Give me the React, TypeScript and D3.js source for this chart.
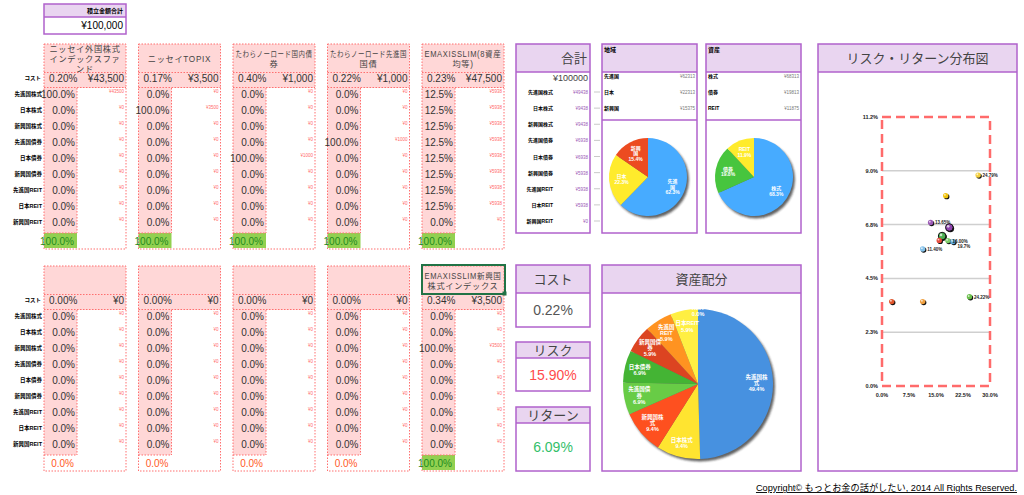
import React from 'react';
import * as d3 from 'd3';

const FONT = "Arial, 'Liberation Sans', 'Noto Sans CJK JP', sans-serif";
const PINK = '#ffd7d7';
const DOT = '#ff6f6f';
const GREEN = '#92d050';
const PURPLE = '#b062cc';
const LILAC = '#e9d5f0';

const assetClasses = ['先進国株式', '日本株式', '新興国株式', '先進国債券', '日本債券', '新興国債券', '先進国REIT', '日本REIT', '新興国REIT'];

const topFundNames = [
  ['ニッセイ外国株式', 'インデックスファ', 'ンド'],
  ['ニッセイTOPIX'],
  ['たわらノーロード国内債', '券'],
  ['たわらノーロード先進国', '国債'],
  ['EMAXISSLIM(8資産', '均等)'],
];
const topFundCosts = ['0.20%', '0.17%', '0.40%', '0.22%', '0.23%'];
const topFundAmounts = [43500, 3500, 1000, 1000, 47500];
const topFundWeights = [
  [100, 0, 0, 0, 0, 0, 0, 0, 0],
  [0, 100, 0, 0, 0, 0, 0, 0, 0],
  [0, 0, 0, 0, 100, 0, 0, 0, 0],
  [0, 0, 0, 100, 0, 0, 0, 0, 0],
  [12.5, 12.5, 12.5, 12.5, 12.5, 12.5, 12.5, 12.5, 0],
];

const bottomFundNames = [[], [], [], [], ['EMAXISSLIM新興国', '株式インデックス']];
const bottomFundCosts = ['0.00%', '0.00%', '0.00%', '0.00%', '0.34%'];
const bottomFundAmounts = [0, 0, 0, 0, 3500];
const bottomFundWeights = [
  [0, 0, 0, 0, 0, 0, 0, 0, 0],
  [0, 0, 0, 0, 0, 0, 0, 0, 0],
  [0, 0, 0, 0, 0, 0, 0, 0, 0],
  [0, 0, 0, 0, 0, 0, 0, 0, 0],
  [0, 0, 100, 0, 0, 0, 0, 0, 0],
];

const totalAmounts = [49438, 9438, 9438, 6938, 6938, 5938, 5938, 5938, 0];

const regionNames = ['先進国', '日本', '新興国'];
const regionAmounts = [62313, 22313, 15375];
const regionShares = [62.3, 22.3, 15.4];
const regionLabels = [['先進', '国', '62.3%'], ['日本', '22.3%'], ['新興', '国', '15.4%']];
const regionColors = ['#3f97ee', '#f3cf27', '#d0421c'];

const assetNames = ['株式', '債券', 'REIT'];
const assetAmounts = [68313, 19813, 11875];
const assetShares = [68.3, 19.8, 11.9];
const assetLabels = [['株式', '68.3%'], ['債券', '19.8%'], ['REIT', '11.9%']];
const assetColors = ['#3f97ee', '#3fae37', '#f3cf27'];

const allocShares = [49.4, 9.4, 9.4, 6.9, 6.9, 5.9, 5.9, 5.9, 0.0];
const allocLabels = [
  ['先進国株', '式', '49.4%'], ['日本株式', '9.4%'], ['新興国株', '式', '9.4%'],
  ['先進国債', '券', '6.9%'], ['日本債券', '6.9%'], ['新興国債', '券', '5.9%'],
  ['先進国', 'REIT', '5.9%'], ['日本REIT', '5.9%'], ['REIT', '0.0%'],
];
const allocColors = ['#3f80c6', '#f0c92a', '#e0471b', '#5cb43e', '#3c9f2e', '#c23c1d', '#e8821d', '#f4d33a', '#f4d33a'];

const portfolioStats = [
  { title: 'コスト', value: '0.22%', color: '#555555' },
  { title: 'リスク', value: '15.90%', color: '#ff4b4b' },
  { title: 'リターン', value: '6.09%', color: '#33c06a' },
];

const rrRisk = [26.7, 17.7, 13.5, 18.7, 16.7, 15.9, 18.3, 19.7, 11.3, 2.7, 11.3, 24.3];
const rrReturn = [8.82, 7.96, 6.84, 6.63, 6.27, 6.09, 6.08, 6.04, 5.73, 3.53, 3.53, 3.73];
const rrColors = ['#f4d03f', '#f1c40f', '#9b59b6', '#8e44ad', '#4caf50', '#e74c3c', '#7dcc6a', '#5dade2', '#85c1e9', '#e0552b', '#f0a040', '#6abf4b'];
const rrBig = [false, false, false, true, true, false, false, false, false, false, false, false];
const rrLabels = ['24.79%', '', '13.65%', '', '', '', '16.00%', '19.7%', '11.40%', '', '', '24.22%'];
const rrYTicks = [0, 2.25, 4.5, 6.75, 9, 11.25];
const rrYTickLabels = ['0.0%', '2.3%', '4.5%', '6.8%', '9.0%', '11.2%'];
const rrXTicks = [0, 7.5, 15, 22.5, 30];
const rrXTickLabels = ['0.0%', '7.5%', '15.0%', '22.5%', '30.0%'];

const colX = d3.scaleLinear().domain([0, 4]).range([44, 422]);
const rowY = d3.scaleLinear().domain([0, 8]).range([50, 178]);
const yen = d3.format(',');

// rough width of a header line (CJK = 1em, latin narrower)
function textWidth(s: string, fs: number, ls: number) {
  let w = 0;
  for (const ch of s) w += (ch.charCodeAt(0) > 255 ? 1 : 0.64) * fs + ls;
  return w;
}

function FundPanel({ x, y, name, cost, amount, weights, selected }: any) {
  const W = 82;
  const cw = 33;
  const total = d3.sum(weights as number[]);
  const dash = '1.5 1.5';
  const lineH = 10;
  const startY = 14.5 - ((name.length - 1) * lineH) / 2;
  return (
    <g fontFamily={FONT}>
      <rect x={x} y={y} width={W} height={205} fill="#fff" />
      <rect x={x} y={y} width={W} height={44} fill={PINK} />
      <rect x={x} y={y + 44} width={cw} height={145} fill={PINK} />
      {total > 0 && <rect x={x} y={y + 189} width={cw} height={15} fill={GREEN} />}
      <rect x={x} y={y} width={W} height={205} fill="none" stroke={DOT} strokeDasharray={dash} />
      <line x1={x} x2={x + W} y1={y + 28.5} y2={y + 28.5} stroke={DOT} strokeDasharray={dash} />
      <line x1={x} x2={x + W} y1={y + 43.5} y2={y + 43.5} stroke={DOT} strokeDasharray={dash} />
      <line x1={x + cw} x2={x + cw} y1={y + 44} y2={y + 189} stroke={DOT} strokeDasharray={dash} />
      <line x1={x} x2={x + cw} y1={y + 189} y2={y + 189} stroke={DOT} strokeDasharray={dash} />
      {selected && (
        <g>
          <rect x={x} y={y - 1} width={W + 1} height={29} fill="none" stroke="#217346" strokeWidth={2} />
          <rect x={x + W - 1.5} y={y + 25.5} width={4} height={4} fill="#217346" />
        </g>
      )}
      {name.map((t: string, i: number) => {
        const w = textWidth(t, 8.2, 0.7);
        return (
          <text key={i} x={x + W / 2} y={y + startY + i * lineH + 3} textAnchor="middle" fontSize={8.2}
            letterSpacing={0.7} fill="#444" {...(w > 77 ? { textLength: 77, lengthAdjust: 'spacingAndGlyphs' } : {})}>{t}</text>
        );
      })}
      <text x={x + 5} y={y + 38} fontSize={10} fill="#333">{cost}</text>
      <text x={x + 80} y={y + 38} fontSize={10} fill="#333" textAnchor="end">¥{yen(amount)}</text>
      {weights.map((w: number, i: number) => (
        <g key={i}>
          <text x={x + 31} y={y + rowY(i) + 3.6} fontSize={10} fill="#333" textAnchor="end">{w.toFixed(1)}%</text>
          <text x={x + 80} y={y + rowY(i) - 1} fontSize={4.5} fill="#ff6b6b" textAnchor="end">¥{Math.round(amount * w / 100)}</text>
        </g>
      ))}
      <text x={x + 30} y={y + 200.5} fontSize={10} textAnchor="end" fill={total > 0 ? '#1e8a1e' : '#ff5a1f'}>{total.toFixed(1)}%</text>
    </g>
  );
}

function RowLabels({ y }: any) {
  return (
    <g fontFamily={FONT} fontWeight="bold" fontSize={5.5} fill="#000" textAnchor="end">
      <text x={41} y={y + 36}>コスト</text>
      {assetClasses.map((a, i) => (
        <text key={a} x={42} y={y + rowY(i) + 2}>{a}</text>
      ))}
    </g>
  );
}

function Pie({ id, cx, cy, r, values, colors, labels, fontSize, labelR }: any) {
  const arcs = d3.pie<number>().sort(null)(values);
  const arc = d3.arc<d3.PieArcDatum<number>>().innerRadius(0).outerRadius(r);
  return (
    <g fontFamily={FONT}>
      <defs>
        <filter id={`${id}-blur`} x="-20%" y="-20%" width="140%" height="140%">
          <feGaussianBlur stdDeviation={1.2} />
        </filter>
        {colors.map((c: string, i: number) => (
          <linearGradient key={i} id={`${id}-g${i}`} gradientUnits="userSpaceOnUse" x1={cx - r * 0.3} y1={cy - r} x2={cx + r * 0.3} y2={cy + r}>
            <stop offset="0" stopColor={d3.color(c)!.brighter(0.35).toString()} />
            <stop offset="1" stopColor={d3.color(c)!.darker(0.55).toString()} />
          </linearGradient>
        ))}
      </defs>
      <circle cx={cx + 2} cy={cy + 2.5} r={r} fill="#222" opacity={0.7} filter={`url(#${id}-blur)`} />
      <g transform={`translate(${cx},${cy})`}>
        {arcs.map((a, i) => (
          <path key={i} d={arc(a) || ''} fill={`url(#${id}-g${i})`} />
        ))}
        {arcs.map((a, i) => {
          const lr = r * (Array.isArray(labelR) ? labelR[i] : labelR);
          const [lx, ly] = d3.arc<d3.PieArcDatum<number>>().innerRadius(lr).outerRadius(lr).centroid(a);
          const lines: string[] = labels[i];
          const h = (lines.length - 1) * fontSize * 1.15;
          return (
            <text key={`l${i}`} fill="#fff" fontSize={fontSize} fontWeight="bold" textAnchor="middle">
              {lines.map((t, j) => (
                <tspan key={j} x={lx} y={ly - h / 2 + j * fontSize * 1.15 + fontSize * 0.35}>{t}</tspan>
              ))}
            </text>
          );
        })}
      </g>
    </g>
  );
}

function HeaderBox({ x, y, w, h, hh, children }: any) {
  return (
    <g>
      <rect x={x} y={y} width={w} height={h} fill="#fff" />
      <rect x={x} y={y} width={w} height={hh} fill={LILAC} />
      <rect x={x} y={y} width={w} height={h} fill="none" stroke={PURPLE} strokeWidth={1.5} />
      <line x1={x} x2={x + w} y1={y + hh} y2={y + hh} stroke={PURPLE} strokeWidth={1.5} />
      {children}
    </g>
  );
}

function ListPanel({ x, title, names, amounts }: any) {
  const ry = d3.scaleLinear().domain([0, 2]).range([76, 108]);
  return (
    <g fontFamily={FONT}>
      <HeaderBox x={x} y={44} w={95} h={189} hh={28} />
      <line x1={x} x2={x + 95} y1={120} y2={120} stroke={PURPLE} strokeWidth={1.5} />
      <text x={x + 2} y={52} fontSize={6} fontWeight="bold" fill="#000">{title}</text>
      {names.map((n: string, i: number) => (
        <g key={n}>
          <text x={x + 2} y={ry(i) + 2} fontSize={5} fontWeight="bold" fill="#000">{n}</text>
          <text x={x + 93} y={ry(i) + 2} fontSize={4.5} fill="#777" textAnchor="end">¥{amounts[i]}</text>
        </g>
      ))}
    </g>
  );
}

function RiskReturn() {
  const x = d3.scaleLinear().domain([0, 30]).range([882, 990]);
  const y = d3.scaleLinear().domain([0, 11.25]).range([386, 117]);
  return (
    <g fontFamily={FONT}>
      <HeaderBox x={818} y={44} w={199} h={427} hh={28} />
      <text x={917.5} y={63} fontSize={13} textAnchor="middle" fill="#444">リスク・リターン分布図</text>
      {rrYTicks.slice(1, 5).map((t) => (
        <line key={t} x1={x(0)} x2={x(30)} y1={y(t)} y2={y(t)} stroke="#cfcfcf" strokeWidth={1.5} />
      ))}
      <rect x={x(0)} y={y(11.25)} width={x(30) - x(0)} height={y(0) - y(11.25)} fill="none"
        stroke="#ff6b6b" strokeWidth={2.5} strokeDasharray="9 5" />
      {rrYTicks.map((t, i) => (
        <text key={t} x={x(0) - 4} y={y(t) + 2} fontSize={5.5} fontWeight="bold" textAnchor="end" fill="#222">{rrYTickLabels[i]}</text>
      ))}
      {rrXTicks.map((t, i) => (
        <text key={t} x={x(t)} y={y(0) + 11} fontSize={5.5} fontWeight="bold" textAnchor="middle" fill="#222">{rrXTickLabels[i]}</text>
      ))}
      {rrRisk.map((r, i) => {
        const px = x(r);
        const py = y(rrReturn[i]);
        const rad = rrBig[i] ? 3.8 : 2.7;
        return (
          <g key={i}>
            <circle cx={px + 1} cy={py + 1} r={rad} fill="#111" />
            <circle cx={px} cy={py} r={rad} fill={rrColors[i]} stroke={rrBig[i] ? '#111' : 'none'} strokeWidth={1} />
            <circle cx={px - rad * 0.3} cy={py - rad * 0.3} r={rad * 0.35} fill="#fff" opacity={0.7} />
          </g>
        );
      })}
      {rrRisk.map((r, i) => rrLabels[i] ? (
        <text key={`t${i}`} x={x(r) + 4.5} y={y(rrReturn[i]) + 2 + (i === 7 ? 4.5 : 0)} fontSize={4.5} fontWeight="bold" fill="#222">{rrLabels[i]}</text>
      ) : null)}
    </g>
  );
}

export default function App() {
  const totalRowY = d3.scaleLinear().domain([0, 8]).range([92, 221]);
  const statY = [265, 342, 407];
  const statH = [62, 49, 64];
  const allocLabelR = [0.78, 0.82, 0.8, 0.8, 0.8, 0.8, 0.8, 0.78, 0.97];
  return (
    <svg width={1024} height={495} style={{ position: 'absolute', left: 0, top: 0, background: '#fff' }}>
      <rect width={1024} height={495} fill="#fff" />
      {/* 積立金額合計 */}
      <g fontFamily={FONT}>
        <HeaderBox x={44} y={4} w={82} h={30} hh={13} />
        <text x={123} y={13} fontSize={6} fontWeight="bold" textAnchor="end" fill="#000">積立金額合計</text>
        <text x={123} y={29} fontSize={10} textAnchor="end" fill="#000">¥100,000</text>
      </g>

      <RowLabels y={44} />
      <RowLabels y={266} />
      {topFundNames.map((n, i) => (
        <FundPanel key={`t${i}`} x={colX(i)} y={44} name={n} cost={topFundCosts[i]} amount={topFundAmounts[i]} weights={topFundWeights[i]} />
      ))}
      {bottomFundNames.map((n, i) => (
        <FundPanel key={`b${i}`} x={colX(i)} y={266} name={n} cost={bottomFundCosts[i]} amount={bottomFundAmounts[i]}
          weights={bottomFundWeights[i]} selected={i === 4} />
      ))}

      {/* 合計 */}
      <g fontFamily={FONT}>
        <HeaderBox x={516} y={44} w={74} h={189} hh={28} />
        <text x={587} y={63} fontSize={13} textAnchor="end" fill="#444">合計</text>
        <text x={588} y={81} fontSize={9} textAnchor="end" fill="#444">¥100000</text>
        {assetClasses.map((a, i) => (
          <g key={a}>
            <text x={553} y={totalRowY(i) + 2} fontSize={5} fontWeight="bold" textAnchor="end" fill="#000">{a}</text>
            <text x={588} y={totalRowY(i) + 2} fontSize={4.5} textAnchor="end" fill="#9b59b6">¥{totalAmounts[i]}</text>
            <line x1={594} x2={600} y1={totalRowY(i)} y2={totalRowY(i)} stroke="#bbb" strokeWidth={0.8} />
          </g>
        ))}
      </g>

      <ListPanel x={602} title="地域" names={regionNames} amounts={regionAmounts} />
      <ListPanel x={706} title="資産" names={assetNames} amounts={assetAmounts} />
      <Pie id="region" cx={648} cy={177} r={39} values={regionShares} colors={regionColors} labels={regionLabels} fontSize={5} labelR={0.68} />
      <Pie id="asset" cx={754} cy={177} r={39} values={assetShares} colors={assetColors} labels={assetLabels} fontSize={5} labelR={0.68} />

      {/* コスト / リスク / リターン */}
      {portfolioStats.map((s, i) => {
        const hh = i === 0 ? 28 : 16;
        return (
          <g key={s.title} fontFamily={FONT}>
            <HeaderBox x={516} y={statY[i]} w={74} h={statH[i]} hh={hh} />
            <text x={553} y={statY[i] + hh / 2 + 4.5} fontSize={13} textAnchor="middle" fill="#444">{s.title}</text>
            <text x={553} y={statY[i] + hh + (statH[i] - hh) / 2 + 5} fontSize={14} textAnchor="middle" fill={s.color}>{s.value}</text>
          </g>
        );
      })}

      {/* 資産配分 */}
      <g fontFamily={FONT}>
        <HeaderBox x={602} y={265} w={199} h={206} hh={28} />
        <text x={701.5} y={284} fontSize={13} textAnchor="middle" fill="#444">資産配分</text>
      </g>
      <Pie id="alloc" cx={698} cy={384} r={75} values={allocShares} colors={allocColors} labels={allocLabels} fontSize={5.5} labelR={allocLabelR} />

      <RiskReturn />

      <text x={1017} y={491} fontFamily={FONT} fontSize={9.2} textAnchor="end" fill="#000" textDecoration="underline">
        Copyright© もっとお金の話がしたい, 2014 All Rights Reserved.
      </text>
    </svg>
  );
}
